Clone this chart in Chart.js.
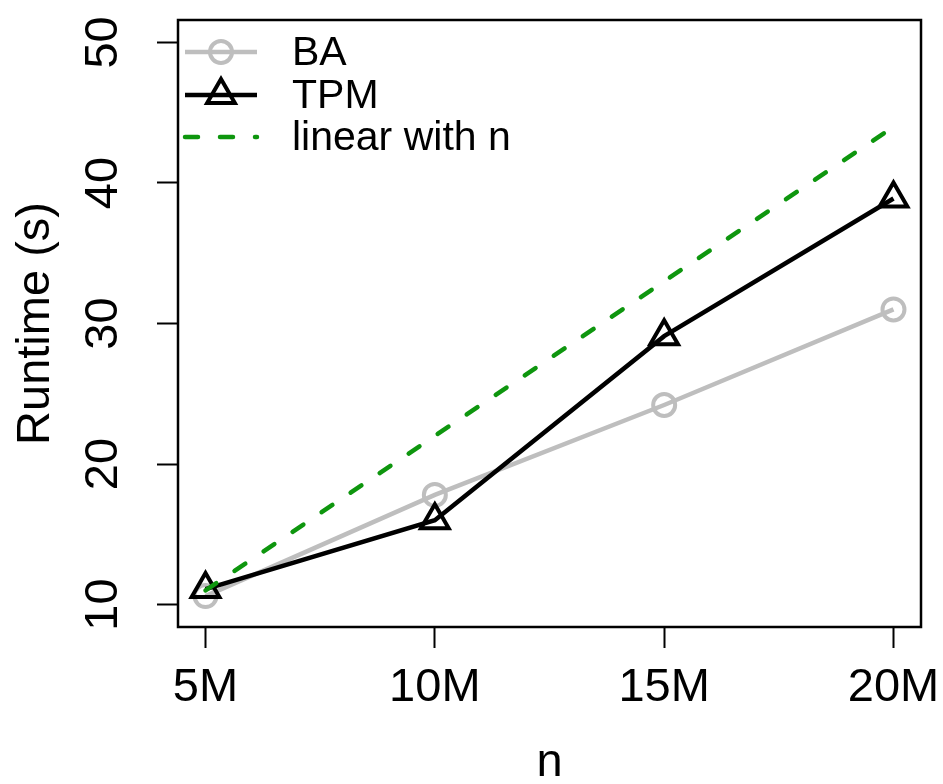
<!DOCTYPE html>
<html lang="en">
<head>
<meta charset="UTF-8">
<title>Runtime vs n</title>
<style>
    html, body {
        margin: 0;
        padding: 0;
        background: #ffffff;
    }
    #wrap {
        width: 943px;
        height: 784px;
    }
</style>
</head>
<body>
<div id="wrap"><canvas id="runtimeChart" width="943" height="784"></canvas></div>

<script src="https://cdn.jsdelivr.net/npm/chart.js"></script>
<script>
    // n in millions, and the labels shown under the ticks
    const nValues = [5, 10, 15, 20];
    const xTickLabels = ['5M', '10M', '15M', '20M'];
    const yTickValues = [10, 20, 30, 40, 50];

    // runtime in seconds
    const baRuntime = [10.6, 17.8, 24.2, 31.0];
    const tpmRuntime = [11.1, 16.0, 29.1, 38.9];
    const linearRuntime = [11, 22, 33, 44];

    const seriesNames = ['BA', 'TPM', 'linear with n'];

    const FONT = '"Liberation Sans", Arial, Helvetica, sans-serif';

    const toPoints = ys => nValues.map((n, i) => ({ x: n, y: ys[i] }));

    // draws the frame, the rotated y tick labels and the legend
    const rPlotStyle = {
        id: 'rPlotStyle',
        afterDraw(chart) {
            const ctx = chart.ctx;
            const area = chart.chartArea;
            ctx.save();

            // box round the plot
            ctx.strokeStyle = '#000';
            ctx.lineWidth = 2.5;
            ctx.strokeRect(area.left, area.top, area.right - area.left, area.bottom - area.top);

            // y tick labels, turned like R does
            const yScale = chart.scales.y;
            ctx.fillStyle = '#000';
            ctx.font = '47px ' + FONT;
            ctx.textAlign = 'center';
            ctx.textBaseline = 'alphabetic';
            yScale.ticks.forEach(t => {
                const py = yScale.getPixelForValue(t.value);
                ctx.save();
                ctx.translate(117, py);
                ctx.rotate(-Math.PI / 2);
                ctx.fillText(String(t.value), 0, 0);
                ctx.restore();
            });

            // legend in the top left corner
            const rows = [52, 95, 137];
            const x0 = area.left + 7, x1 = area.left + 79;
            chart.data.datasets.forEach((ds, i) => {
                const y = rows[i];
                ctx.save();
                ctx.strokeStyle = ds.borderColor;
                ctx.lineWidth = ds.borderWidth;
                ctx.lineCap = ds.borderCapStyle || 'butt';
                ctx.setLineDash(ds.borderDash || []);
                ctx.beginPath();
                ctx.moveTo(x0, y);
                ctx.lineTo(x1, y);
                ctx.stroke();
                ctx.setLineDash([]);
                if (ds.pointRadius > 0) {
                    ctx.fillStyle = 'rgba(0,0,0,0)';
                    ctx.strokeStyle = ds.pointBorderColor;
                    ctx.lineWidth = ds.pointBorderWidth;
                    Chart.helpers.drawPoint(ctx, {
                        pointStyle: ds.pointStyle,
                        radius: ds.pointRadius,
                        borderWidth: ds.pointBorderWidth,
                        rotation: 0
                    }, (x0 + x1) / 2, y);
                }
                ctx.restore();

                ctx.fillStyle = '#000';
                ctx.font = '41px ' + FONT;
                ctx.textAlign = 'left';
                ctx.textBaseline = 'middle';
                ctx.fillText(seriesNames[i], area.left + 114, y + 2);
            });

            ctx.restore();
        }
    };

    const ctx = document.getElementById('runtimeChart').getContext('2d');

    new Chart(ctx, {
        type: 'line',
        data: {
            datasets: [{
                label: seriesNames[0],
                data: toPoints(baRuntime),
                borderColor: '#bebebe',
                borderWidth: 4.5,
                pointStyle: 'circle',
                pointRadius: 11,
                pointBorderWidth: 4,
                pointBorderColor: '#bebebe',
                pointBackgroundColor: 'rgba(0,0,0,0)',
                order: 2
            }, {
                label: seriesNames[1],
                data: toPoints(tpmRuntime),
                borderColor: '#000000',
                borderWidth: 4.5,
                pointStyle: 'triangle',
                pointRadius: 16,
                pointBorderWidth: 4,
                pointBorderColor: '#000000',
                pointBackgroundColor: 'rgba(0,0,0,0)',
                order: 1
            }, {
                label: seriesNames[2],
                data: toPoints(linearRuntime),
                borderColor: '#0e960e',
                borderWidth: 4.5,
                borderDash: [13, 22],
                borderCapStyle: 'round',
                pointRadius: 0,
                order: 0
            }]
        },
        options: {
            responsive: false,
            animation: false,
            layout: {
                padding: { top: 8, right: 22, left: 0, bottom: 0 }
            },
            plugins: {
                legend: { display: false },
                tooltip: { enabled: false }
            },
            elements: {
                line: { tension: 0 }
            },
            scales: {
                x: {
                    type: 'linear',
                    min: 4.4,
                    max: 20.6,
                    afterBuildTicks: scale => {
                        scale.ticks = nValues.map(v => ({ value: v }));
                    },
                    afterFit: scale => {
                        scale.height = 157;
                        scale.paddingLeft = 0;
                        scale.paddingRight = 0;
                    },
                    grid: {
                        drawOnChartArea: false,
                        drawTicks: true,
                        tickLength: 21,
                        tickWidth: 2,
                        tickColor: '#000'
                    },
                    border: { display: true, color: '#000', width: 2 },
                    ticks: {
                        color: '#000',
                        padding: 12,
                        maxRotation: 0,
                        font: { family: FONT, size: 47, lineHeight: 1.2 },
                        callback: value => xTickLabels[nValues.indexOf(value)]
                    },
                    title: {
                        display: true,
                        text: 'n',
                        color: '#000',
                        font: { family: FONT, size: 47, lineHeight: 0.9 },
                        padding: 0
                    }
                },
                y: {
                    type: 'linear',
                    min: 8.4,
                    max: 51.6,
                    afterBuildTicks: scale => {
                        scale.ticks = yTickValues.map(v => ({ value: v }));
                    },
                    afterFit: scale => {
                        scale.width = 178;
                        scale.paddingTop = 0;
                        scale.paddingBottom = 0;
                    },
                    grid: {
                        drawOnChartArea: false,
                        drawTicks: true,
                        tickLength: 21,
                        tickWidth: 2,
                        tickColor: '#000'
                    },
                    border: { display: true, color: '#000', width: 2 },
                    ticks: { display: false },
                    title: {
                        display: true,
                        text: 'Runtime (s)',
                        color: '#000',
                        font: { family: FONT, size: 47, lineHeight: 1.2 },
                        padding: { top: 8, bottom: 0 }
                    }
                }
            }
        },
        plugins: [rPlotStyle]
    });
</script>
</body>
</html>
